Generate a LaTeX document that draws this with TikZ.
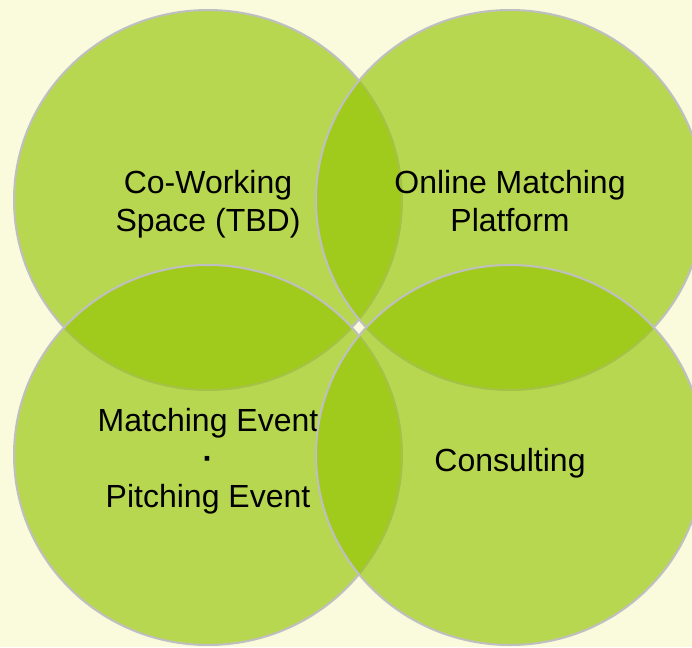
\documentclass[tikz,border=0pt]{standalone}
\usepackage{fontspec}
\setmainfont{Liberation Sans}
\usepackage{xcolor}
\usepackage{tikz}
\usetikzlibrary{positioning, shapes.geometric}

\definecolor{paper}{RGB}{250,250,220}
\definecolor{venngreen}{RGB}{147,196,0}
\definecolor{venngray}{RGB}{191,191,194}

\begin{document}
\begin{tikzpicture}[x=0.75pt, y=-0.75pt]

	% Styles
	\tikzset{
		venn/.style={
			ellipse, draw=venngray, line width=1.5pt,
			fill=venngreen, fill opacity=0.63,
			minimum width=291pt, minimum height=285pt, inner sep=0pt
		},
		vennlabel/.style={
			draw=none, fill=none, inner sep=0pt,
			align=center, font=\fontsize{24}{28.5}\selectfont
		}
	}

	% Background
	\fill[paper] (0,0) rectangle (692,647);
	\useasboundingbox (0,0) rectangle (692,647);
	\clip (0,0) rectangle (692,647);

	% Circles, each with its label (later circles lie over earlier ones)
	\node (cowork) [venn] at (208,200) {};
	\node (cowork-text) [vennlabel, yshift=-3pt] at (cowork.center) {Co-Working\\Space (TBD)};

	\node (online) [venn] at (510,200) {};
	\node (online-text) [vennlabel, yshift=-1pt] at (online.center) {Online Matching\\Platform};

	\node (events) [venn] at (208,455) {};
	\node (events-text) [vennlabel, yshift=-4.5pt] at (events.center) {Matching Event\\\textbf{·}\\Pitching Event};

	\node (consult) [venn] at (510,455) {};
	\node (consult-text) [vennlabel, yshift=-6pt] at (consult.center) {Consulting};

\end{tikzpicture}
\end{document}
